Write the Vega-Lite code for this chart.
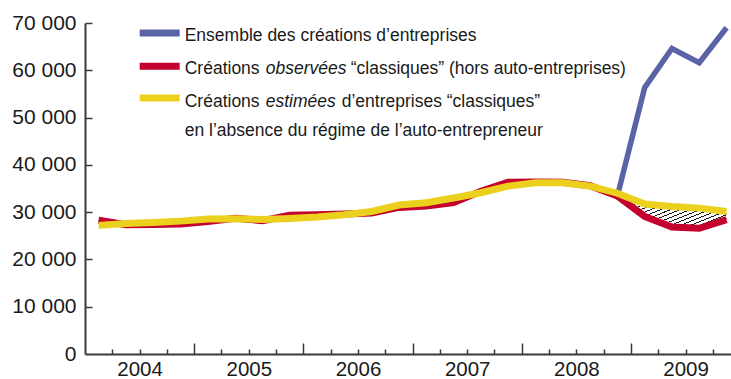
{
  "$schema": "https://vega.github.io/schema/vega-lite/v6.json",
  "autosize": {"type": "none"},
  "padding": {"left": 85, "top": 23, "right": 0, "bottom": 25},
  "width": 646,
  "height": 331,
  "background": "white",
  "config": {
    "view": {"stroke": null},
    "font": "Liberation Sans",
    "axis": {
      "grid": false,
      "domainColor": "#3a3a3a",
      "domainWidth": 2,
      "tickColor": "#3a3a3a",
      "tickWidth": 1.5,
      "labelFont": "Liberation Sans",
      "labelFontSize": 21,
      "labelColor": "#1a1a1a",
      "labelFlush": false,
      "labelOverlap": false,
      "labelBound": false,
      "title": null
    }
  },
  "data": {
    "values": [
      {"trimestre": "2004 T1", "t": 2004.125, "ensemble": 28300, "observees": 28300, "estimees": 27200},
      {"trimestre": "2004 T2", "t": 2004.375, "ensemble": 27350, "observees": 27350, "estimees": 27600},
      {"trimestre": "2004 T3", "t": 2004.625, "ensemble": 27400, "observees": 27400, "estimees": 27800},
      {"trimestre": "2004 T4", "t": 2004.875, "ensemble": 27500, "observees": 27500, "estimees": 28100},
      {"trimestre": "2005 T1", "t": 2005.125, "ensemble": 28000, "observees": 28000, "estimees": 28550},
      {"trimestre": "2005 T2", "t": 2005.375, "ensemble": 28700, "observees": 28700, "estimees": 28600},
      {"trimestre": "2005 T3", "t": 2005.625, "ensemble": 28200, "observees": 28200, "estimees": 28450},
      {"trimestre": "2005 T4", "t": 2005.875, "ensemble": 29350, "observees": 29350, "estimees": 28650},
      {"trimestre": "2006 T1", "t": 2006.125, "ensemble": 29450, "observees": 29450, "estimees": 28950},
      {"trimestre": "2006 T2", "t": 2006.375, "ensemble": 29600, "observees": 29600, "estimees": 29450},
      {"trimestre": "2006 T3", "t": 2006.625, "ensemble": 29800, "observees": 29800, "estimees": 30150},
      {"trimestre": "2006 T4", "t": 2006.875, "ensemble": 31000, "observees": 31000, "estimees": 31500},
      {"trimestre": "2007 T1", "t": 2007.125, "ensemble": 31300, "observees": 31300, "estimees": 32000},
      {"trimestre": "2007 T2", "t": 2007.375, "ensemble": 32000, "observees": 32000, "estimees": 33000},
      {"trimestre": "2007 T3", "t": 2007.625, "ensemble": 34400, "observees": 34400, "estimees": 34100},
      {"trimestre": "2007 T4", "t": 2007.875, "ensemble": 36300, "observees": 36300, "estimees": 35500},
      {"trimestre": "2008 T1", "t": 2008.125, "ensemble": 36400, "observees": 36400, "estimees": 36200},
      {"trimestre": "2008 T2", "t": 2008.375, "ensemble": 36300, "observees": 36300, "estimees": 36200},
      {"trimestre": "2008 T3", "t": 2008.625, "ensemble": 35600, "observees": 35600, "estimees": 35500},
      {"trimestre": "2008 T4", "t": 2008.875, "ensemble": 33400, "observees": 33400, "estimees": 34000},
      {"trimestre": "2009 T1", "t": 2009.125, "ensemble": 56300, "observees": 29100, "estimees": 31700},
      {"trimestre": "2009 T2", "t": 2009.375, "ensemble": 64600, "observees": 26850, "estimees": 31200},
      {"trimestre": "2009 T3", "t": 2009.625, "ensemble": 61600, "observees": 26600, "estimees": 30850},
      {"trimestre": "2009 T4", "t": 2009.875, "ensemble": 69000, "observees": 28400, "estimees": 30150}
    ]
  },
  "resolve": {"axis": {"x": "independent", "y": "independent"}},
  "layer": [
    {
      "transform": [{"filter": "datum.t >= 2008.8"}],
      "mark": {
        "type": "area",
        "fill": {
          "gradient": "linear",
          "x1": 0, "y1": 0, "x2": 1, "y2": 0.8,
          "stops": [
            {"offset": 0, "color": "white"},
            {"offset": 0.023, "color": "white"}, {"offset": 0.023, "color": "#1a1a1a"}, {"offset": 0.037, "color": "#1a1a1a"}, {"offset": 0.037, "color": "white"},
            {"offset": 0.078, "color": "white"}, {"offset": 0.078, "color": "#1a1a1a"}, {"offset": 0.092, "color": "#1a1a1a"}, {"offset": 0.092, "color": "white"},
            {"offset": 0.133, "color": "white"}, {"offset": 0.133, "color": "#1a1a1a"}, {"offset": 0.147, "color": "#1a1a1a"}, {"offset": 0.147, "color": "white"},
            {"offset": 0.188, "color": "white"}, {"offset": 0.188, "color": "#1a1a1a"}, {"offset": 0.202, "color": "#1a1a1a"}, {"offset": 0.202, "color": "white"},
            {"offset": 0.243, "color": "white"}, {"offset": 0.243, "color": "#1a1a1a"}, {"offset": 0.257, "color": "#1a1a1a"}, {"offset": 0.257, "color": "white"},
            {"offset": 0.298, "color": "white"}, {"offset": 0.298, "color": "#1a1a1a"}, {"offset": 0.312, "color": "#1a1a1a"}, {"offset": 0.312, "color": "white"},
            {"offset": 0.353, "color": "white"}, {"offset": 0.353, "color": "#1a1a1a"}, {"offset": 0.367, "color": "#1a1a1a"}, {"offset": 0.367, "color": "white"},
            {"offset": 0.408, "color": "white"}, {"offset": 0.408, "color": "#1a1a1a"}, {"offset": 0.422, "color": "#1a1a1a"}, {"offset": 0.422, "color": "white"},
            {"offset": 0.463, "color": "white"}, {"offset": 0.463, "color": "#1a1a1a"}, {"offset": 0.477, "color": "#1a1a1a"}, {"offset": 0.477, "color": "white"},
            {"offset": 0.518, "color": "white"}, {"offset": 0.518, "color": "#1a1a1a"}, {"offset": 0.532, "color": "#1a1a1a"}, {"offset": 0.532, "color": "white"},
            {"offset": 0.573, "color": "white"}, {"offset": 0.573, "color": "#1a1a1a"}, {"offset": 0.587, "color": "#1a1a1a"}, {"offset": 0.587, "color": "white"},
            {"offset": 0.628, "color": "white"}, {"offset": 0.628, "color": "#1a1a1a"}, {"offset": 0.642, "color": "#1a1a1a"}, {"offset": 0.642, "color": "white"},
            {"offset": 0.683, "color": "white"}, {"offset": 0.683, "color": "#1a1a1a"}, {"offset": 0.697, "color": "#1a1a1a"}, {"offset": 0.697, "color": "white"},
            {"offset": 0.738, "color": "white"}, {"offset": 0.738, "color": "#1a1a1a"}, {"offset": 0.752, "color": "#1a1a1a"}, {"offset": 0.752, "color": "white"},
            {"offset": 0.793, "color": "white"}, {"offset": 0.793, "color": "#1a1a1a"}, {"offset": 0.807, "color": "#1a1a1a"}, {"offset": 0.807, "color": "white"},
            {"offset": 0.848, "color": "white"}, {"offset": 0.848, "color": "#1a1a1a"}, {"offset": 0.862, "color": "#1a1a1a"}, {"offset": 0.862, "color": "white"},
            {"offset": 0.903, "color": "white"}, {"offset": 0.903, "color": "#1a1a1a"}, {"offset": 0.917, "color": "#1a1a1a"}, {"offset": 0.917, "color": "white"},
            {"offset": 0.958, "color": "white"}, {"offset": 0.958, "color": "#1a1a1a"}, {"offset": 0.972, "color": "#1a1a1a"}, {"offset": 0.972, "color": "white"},
            {"offset": 1, "color": "white"}
          ]
        }
      },
      "encoding": {
        "x": {"field": "t", "type": "quantitative", "scale": {"domain": [2004, 2009.9158], "nice": false, "zero": false}, "axis": null},
        "y": {"field": "estimees", "type": "quantitative", "scale": {"domain": [0, 70000], "nice": false}, "axis": null},
        "y2": {"field": "observees"}
      }
    },
    {
      "mark": {"type": "line", "stroke": "#5a63a6", "strokeWidth": 5.5, "strokeJoin": "miter", "strokeCap": "butt"},
      "encoding": {
        "x": {
          "field": "t", "type": "quantitative",
          "axis": {"orient": "bottom", "values": [2005, 2006, 2007, 2008, 2009], "tickSize": -11, "labels": false, "domain": true}
        },
        "y": {
          "field": "ensemble", "type": "quantitative",
          "axis": {"orient": "left", "values": [10000, 20000, 30000, 40000, 50000, 60000, 70000], "tickSize": -7, "labels": false, "domain": true}
        }
      }
    },
    {
      "mark": {"type": "line", "stroke": "#c4002e", "strokeWidth": 7, "strokeJoin": "miter", "strokeCap": "butt"},
      "encoding": {
        "x": {
          "field": "t", "type": "quantitative",
          "axis": {
            "orient": "bottom",
            "values": [2004.25, 2004.5, 2004.75, 2005.25, 2005.5, 2005.75, 2006.25, 2006.5, 2006.75, 2007.25, 2007.5, 2007.75, 2008.25, 2008.5, 2008.75, 2009.25, 2009.5, 2009.75],
            "tickSize": -5, "labels": false, "domain": false
          }
        },
        "y": {
          "field": "observees", "type": "quantitative",
          "axis": {
            "orient": "left", "values": [0, 10000, 20000, 30000, 40000, 50000, 60000, 70000],
            "ticks": false, "domain": false, "labelPadding": 9, "labelBaseline": "middle",
            "labelExpr": "replace(format(datum.value, ','), ',', ' ')"
          }
        }
      }
    },
    {
      "mark": {"type": "line", "stroke": "#ebd11d", "strokeWidth": 7, "strokeJoin": "miter", "strokeCap": "butt"},
      "encoding": {
        "x": {
          "field": "t", "type": "quantitative",
          "axis": {
            "orient": "bottom", "values": [2004.5, 2005.5, 2006.5, 2007.5, 2008.5, 2009.5],
            "ticks": false, "domain": false, "labelPadding": 5, "labelFontSize": 20.5, "labelAlign": "center",
            "labelExpr": "floor(datum.value)"
          }
        },
        "y": {"field": "estimees", "type": "quantitative", "axis": null}
      }
    },
    {
      "data": {"values": [{"serie": "ensemble"}]},
      "mark": {"type": "rule", "stroke": "#5a63a6", "strokeWidth": 7, "strokeCap": "butt"},
      "encoding": {
        "x": {"datum": 2004.501, "type": "quantitative", "axis": null},
        "x2": {"datum": 2004.867},
        "y": {"datum": 67890, "type": "quantitative", "axis": null}
      }
    },
    {
      "data": {"values": [{"serie": "observees"}]},
      "mark": {"type": "rule", "stroke": "#c4002e", "strokeWidth": 7, "strokeCap": "butt"},
      "encoding": {
        "x": {"datum": 2004.501, "type": "quantitative", "axis": null},
        "x2": {"datum": 2004.867},
        "y": {"datum": 60830, "type": "quantitative", "axis": null}
      }
    },
    {
      "data": {"values": [{"serie": "estimees"}]},
      "mark": {"type": "rule", "stroke": "#ebd11d", "strokeWidth": 7, "strokeCap": "butt"},
      "encoding": {
        "x": {"datum": 2004.501, "type": "quantitative", "axis": null},
        "x2": {"datum": 2004.867},
        "y": {"datum": 54140, "type": "quantitative", "axis": null}
      }
    },
    {
      "data": {"values": [{"texte": "Ensemble des créations d’entreprises"}]},
      "mark": {"type": "text", "align": "left", "baseline": "alphabetic", "fontSize": 17.5, "color": "#1a1a1a"},
      "encoding": {
        "x": {"datum": 2004.913, "type": "quantitative", "axis": null},
        "y": {"datum": 66260, "type": "quantitative", "axis": null},
        "text": {"field": "texte"}
      }
    },
    {
      "data": {"values": [{"texte": "Créations"}]},
      "mark": {"type": "text", "align": "left", "baseline": "alphabetic", "fontSize": 17.5, "color": "#1a1a1a"},
      "encoding": {
        "x": {"datum": 2004.913, "type": "quantitative", "axis": null},
        "y": {"datum": 59180, "type": "quantitative", "axis": null},
        "text": {"field": "texte"}
      }
    },
    {
      "data": {"values": [{"texte": "observées"}]},
      "mark": {"type": "text", "align": "left", "baseline": "alphabetic", "fontSize": 17.5, "fontStyle": "italic", "color": "#1a1a1a", "dx": 81},
      "encoding": {
        "x": {"datum": 2004.913, "type": "quantitative", "axis": null},
        "y": {"datum": 59180, "type": "quantitative", "axis": null},
        "text": {"field": "texte"}
      }
    },
    {
      "data": {"values": [{"texte": "“classiques” (hors auto-entreprises)"}]},
      "mark": {"type": "text", "align": "left", "baseline": "alphabetic", "fontSize": 17.5, "color": "#1a1a1a", "dx": 166},
      "encoding": {
        "x": {"datum": 2004.913, "type": "quantitative", "axis": null},
        "y": {"datum": 59180, "type": "quantitative", "axis": null},
        "text": {"field": "texte"}
      }
    },
    {
      "data": {"values": [{"texte": "Créations"}]},
      "mark": {"type": "text", "align": "left", "baseline": "alphabetic", "fontSize": 17.5, "color": "#1a1a1a"},
      "encoding": {
        "x": {"datum": 2004.913, "type": "quantitative", "axis": null},
        "y": {"datum": 52300, "type": "quantitative", "axis": null},
        "text": {"field": "texte"}
      }
    },
    {
      "data": {"values": [{"texte": "estimées"}]},
      "mark": {"type": "text", "align": "left", "baseline": "alphabetic", "fontSize": 17.5, "fontStyle": "italic", "color": "#1a1a1a", "dx": 81},
      "encoding": {
        "x": {"datum": 2004.913, "type": "quantitative", "axis": null},
        "y": {"datum": 52300, "type": "quantitative", "axis": null},
        "text": {"field": "texte"}
      }
    },
    {
      "data": {"values": [{"texte": "d’entreprises “classiques”"}]},
      "mark": {"type": "text", "align": "left", "baseline": "alphabetic", "fontSize": 17.5, "color": "#1a1a1a", "dx": 157},
      "encoding": {
        "x": {"datum": 2004.913, "type": "quantitative", "axis": null},
        "y": {"datum": 52300, "type": "quantitative", "axis": null},
        "text": {"field": "texte"}
      }
    },
    {
      "data": {"values": [{"texte": "en l’absence du régime de l’auto-entrepreneur"}]},
      "mark": {"type": "text", "align": "left", "baseline": "alphabetic", "fontSize": 17.5, "color": "#1a1a1a"},
      "encoding": {
        "x": {"datum": 2004.913, "type": "quantitative", "axis": null},
        "y": {"datum": 46060, "type": "quantitative", "axis": null},
        "text": {"field": "texte"}
      }
    }
  ]
}
